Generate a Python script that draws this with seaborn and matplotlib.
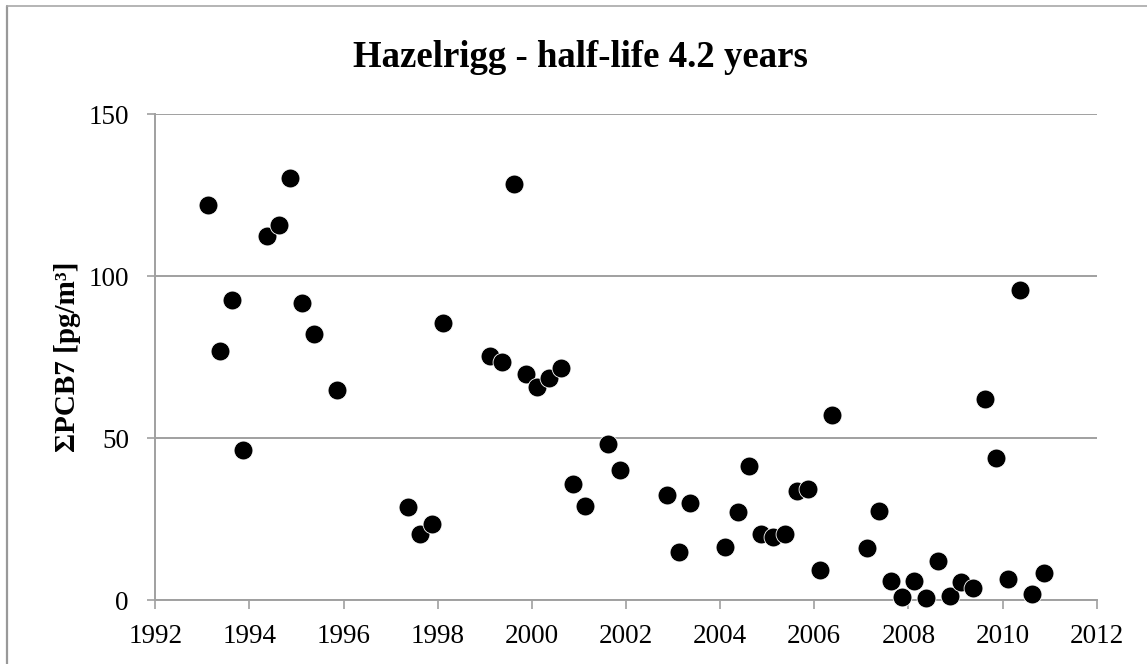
import matplotlib
matplotlib.use("Agg")
import matplotlib.pyplot as plt
import seaborn as sns
import pandas as pd
from matplotlib.lines import Line2D

# sampling dates (decimal year) and sum of 7 PCBs
years = [1993.11, 1993.37, 1993.62, 1993.86, 1994.37, 1994.62, 1994.87, 1995.11,
         1995.37, 1995.86, 1997.36, 1997.63, 1997.88, 1998.12, 1999.11, 1999.36,
         1999.62, 1999.87, 2000.11, 2000.36, 2000.62, 2000.88, 2001.13, 2001.62,
         2001.88, 2002.87, 2003.12, 2003.36, 2004.11, 2004.37, 2004.61, 2004.87,
         2005.12, 2005.37, 2005.63, 2005.87, 2006.13, 2006.38, 2007.12, 2007.38,
         2007.63, 2007.87, 2008.12, 2008.37, 2008.62, 2008.88, 2009.12, 2009.37,
         2009.63, 2009.87, 2010.12, 2010.37, 2010.63, 2010.88]
pcb7 = [121.8, 76.9, 92.6, 46.4, 112.4, 115.7, 130.3, 91.6,
        82.1, 64.9, 28.8, 20.5, 23.6, 85.4, 75.3, 73.6,
        128.3, 69.9, 65.8, 68.6, 71.7, 35.8, 29.0, 48.2,
        40.1, 32.4, 14.7, 29.9, 16.5, 27.2, 41.5, 20.3,
        19.5, 20.5, 33.7, 34.3, 9.3, 57.0, 16.2, 27.4,
        6.0, 1.0, 6.0, 0.5, 11.9, 1.2, 5.5, 3.7,
        62.1, 43.8, 6.5, 95.7, 1.9, 8.2]
x_ticks = list(range(1992, 2013, 2))
y_ticks = [0, 50, 100, 150]

df = pd.DataFrame({"year": years, "pcb7": pcb7})

sns.set_style("white")
plt.rcParams["font.family"] = ["Liberation Serif", "DejaVu Serif"]
plt.rcParams["text.color"] = "black"

fig = plt.figure(figsize=(11.47, 6.64), dpi=100)
ax = fig.add_axes([155.3 / 1147, 1 - 600 / 664, (1096.7 - 155.3) / 1147, (600 - 114) / 664])

sns.scatterplot(data=df, x="year", y="pcb7", ax=ax, color="black", s=185,
                edgecolor="white", linewidth=0.6, clip_on=False, zorder=3)

grey = "#a0a0a0"
ax.set_xlim(1992, 2012)
ax.set_ylim(0, 150)
ax.set_xticks(x_ticks)
ax.set_yticks(y_ticks)
ax.yaxis.grid(True, color=grey, linewidth=1.4)
ax.set_axisbelow(True)
for side in ["top", "right"]:
    ax.spines[side].set_visible(False)
for side in ["left", "bottom"]:
    ax.spines[side].set_color(grey)
    ax.spines[side].set_linewidth(1.4)
ax.tick_params(axis="y", length=6, width=1.2, color=grey, pad=13, labelsize=19.5,
               labelcolor="black")
ax.tick_params(axis="x", length=6.5, width=1.2, color=grey, pad=11, labelsize=19.5,
               labelcolor="black")
ax.tick_params(left=True, bottom=True)

ax.set_xlabel("")
ax.set_ylabel("ΣPCB7 [pg/m³]", fontsize=21, fontweight="bold", labelpad=5,
              color="black")

fig.text(580 / 1147, 1 - 67 / 664, "Hazelrigg - half-life 4.2 years",
         ha="center", va="baseline", fontsize=26.5, fontweight="bold", color="black")

# chart area frame (cropped at right and bottom)
fig.add_artist(Line2D([7 / 1147, 7 / 1147], [0, 1 - 5.5 / 664],
                      transform=fig.transFigure, color="#999999", linewidth=1.6))
fig.add_artist(Line2D([6.5 / 1147, 1], [1 - 6 / 664, 1 - 6 / 664],
                      transform=fig.transFigure, color="#a8a8a8", linewidth=1.2))

fig.savefig("out.png", dpi=100)
